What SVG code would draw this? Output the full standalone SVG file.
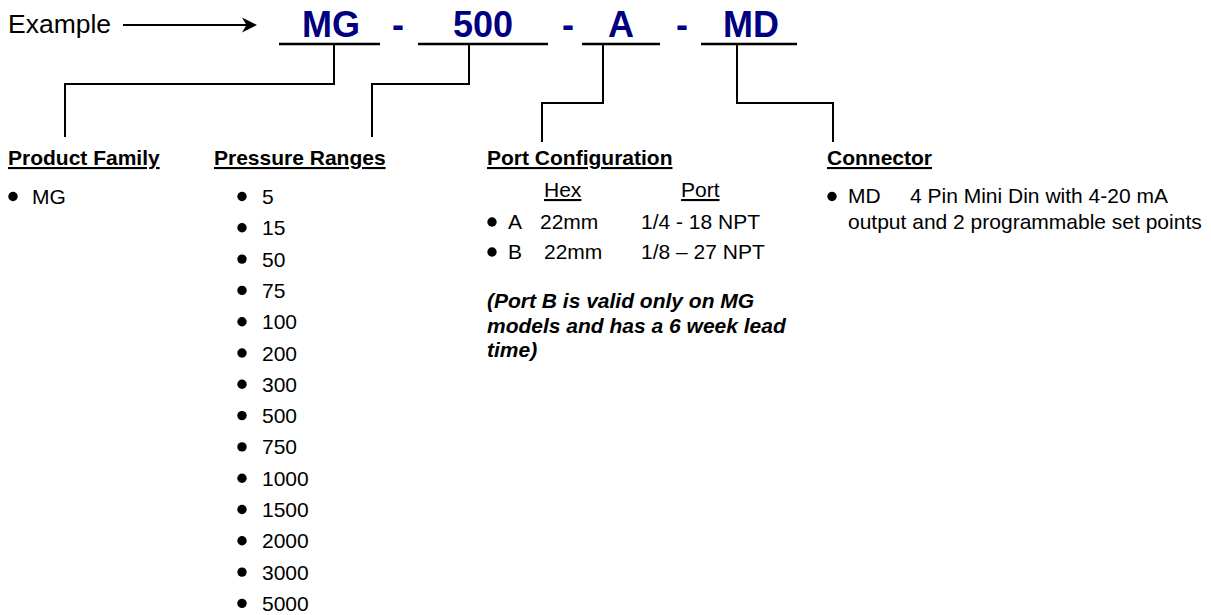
<svg xmlns="http://www.w3.org/2000/svg" width="1211" height="615" viewBox="0 0 1211 615">
<style>
text{font-family:"Liberation Sans",Arial,sans-serif;fill:#000}
.code{font-size:36px;font-weight:bold;fill:#000080}
.h{font-size:21px;font-weight:bold;text-decoration:underline}
.b{font-size:21px}
.n{font-size:21px;font-weight:bold;font-style:italic}
.ln{stroke:#000;stroke-width:2;fill:none}
.ul{stroke:#000;stroke-width:2.5}
.dot{fill:#000}
</style>
<rect width="1211" height="615" fill="#fff"/>
<g id="example">
<text x="8" y="33" style="font-size:26.5px">Example</text>
<line x1="123" y1="25" x2="248" y2="25" stroke="#000" stroke-width="2"/>
<path d="M257,25 L242,17.5 L246.5,25 L242,32.5 Z" fill="#000"/>
</g>
<g id="code">
<text class="code" x="302" y="37">MG</text>
<text class="code" x="392" y="37">-</text>
<text class="code" x="453" y="37">500</text>
<text class="code" x="562" y="37">-</text>
<text class="code" x="608" y="37">A</text>
<text class="code" x="676" y="37">-</text>
<text class="code" x="723" y="37">MD</text>
<line class="ul" x1="279" y1="44" x2="380" y2="44"/>
<line class="ul" x1="418" y1="44" x2="548" y2="44"/>
<line class="ul" x1="582" y1="44" x2="660" y2="44"/>
<line class="ul" x1="701" y1="44" x2="797" y2="44"/>
</g>
<g id="connectors">
<polyline class="ln" points="334,44 334,84 65,84 65,137"/>
<polyline class="ln" points="469,44 469,84 372,84 372,137"/>
<polyline class="ln" points="603,44 603,103 542,103 542,142"/>
<polyline class="ln" points="737,44 737,103 833,103 833,142"/>
</g>
<g id="product-family">
<text class="h" x="8" y="165">Product Family</text>
<circle class="dot" cx="13" cy="196.5" r="4.7"/>
<text class="b" x="32" y="204">MG</text>
</g>
<g id="pressure-ranges">
<text class="h" x="214" y="165">Pressure Ranges</text>
<circle class="dot" cx="242" cy="196.5" r="4.7"/><text class="b" x="262" y="204">5</text>
<circle class="dot" cx="242" cy="227.8" r="4.7"/><text class="b" x="262" y="235.3">15</text>
<circle class="dot" cx="242" cy="259.1" r="4.7"/><text class="b" x="262" y="266.6">50</text>
<circle class="dot" cx="242" cy="290.4" r="4.7"/><text class="b" x="262" y="297.9">75</text>
<circle class="dot" cx="242" cy="321.7" r="4.7"/><text class="b" x="262" y="329.2">100</text>
<circle class="dot" cx="242" cy="353" r="4.7"/><text class="b" x="262" y="360.5">200</text>
<circle class="dot" cx="242" cy="384.3" r="4.7"/><text class="b" x="262" y="391.8">300</text>
<circle class="dot" cx="242" cy="415.6" r="4.7"/><text class="b" x="262" y="423.1">500</text>
<circle class="dot" cx="242" cy="446.9" r="4.7"/><text class="b" x="262" y="454.4">750</text>
<circle class="dot" cx="242" cy="478.2" r="4.7"/><text class="b" x="262" y="485.7">1000</text>
<circle class="dot" cx="242" cy="509.5" r="4.7"/><text class="b" x="262" y="517">1500</text>
<circle class="dot" cx="242" cy="540.8" r="4.7"/><text class="b" x="262" y="548.3">2000</text>
<circle class="dot" cx="242" cy="572.1" r="4.7"/><text class="b" x="262" y="579.6">3000</text>
<circle class="dot" cx="242" cy="603.4" r="4.7"/><text class="b" x="262" y="610.9">5000</text>
</g>
<g id="port-configuration">
<text class="h" x="487" y="165">Port Configuration</text>
<text class="b" x="544" y="197" text-decoration="underline">Hex</text>
<text class="b" x="681" y="197" text-decoration="underline">Port</text>
<circle class="dot" cx="492" cy="222" r="4.7"/>
<text class="b" x="508" y="229">A</text>
<text class="b" x="540" y="229">22mm</text>
<text class="b" x="641" y="229">1/4 - 18 NPT</text>
<circle class="dot" cx="492" cy="252" r="4.7"/>
<text class="b" x="508" y="259">B</text>
<text class="b" x="544" y="259">22mm</text>
<text class="b" x="641" y="259">1/8 – 27 NPT</text>
<text class="n" x="487" y="308">(Port B is valid only on MG</text>
<text class="n" x="487" y="332.5">models and has a 6 week lead</text>
<text class="n" x="487" y="357">time)</text>
</g>
<g id="connector">
<text class="h" x="827" y="165">Connector</text>
<circle class="dot" cx="832" cy="196.5" r="4.7"/>
<text class="b" x="848" y="203">MD</text>
<text class="b" x="910" y="203">4 Pin Mini Din with 4-20 mA</text>
<text class="b" x="848" y="229">output and 2 programmable set points</text>
</g>
</svg>
